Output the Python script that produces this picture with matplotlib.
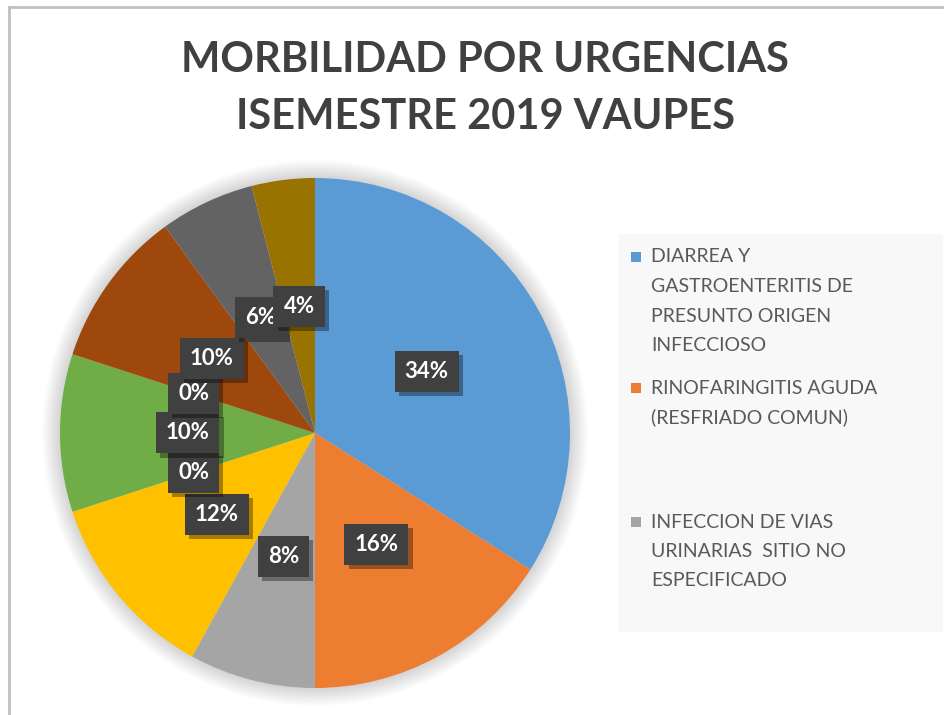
import matplotlib
matplotlib.use('Agg')
import matplotlib.pyplot as plt
from matplotlib.patches import Circle, Rectangle
from matplotlib.lines import Line2D
import matplotlib.patheffects as pe

# ---- data ----
title_lines = ["MORBILIDAD POR URGENCIAS", "ISEMESTRE 2019 VAUPES"]
values = [34, 16, 8, 12, 0, 10, 0, 10, 6, 4]
colors = ['#5B9BD5', '#ED7D31', '#A5A5A5', '#FFC000', '#4472C4',
          '#70AD47', '#255E91', '#9E480E', '#636363', '#997300']
legend_labels = [
    "DIARREA Y\nGASTROENTERITIS DE\nPRESUNTO ORIGEN\nINFECCIOSO",
    "RINOFARINGITIS AGUDA\n(RESFRIADO COMUN)",
    "INFECCION DE VIAS\nURINARIAS  SITIO NO\nESPECIFICADO",
]

W, H = 944, 715
fig = plt.figure(figsize=(W / 100, H / 100), dpi=100)
fig.patch.set_facecolor('white')

# chart border (top and left visible)
fig.add_artist(Line2D([9 / W, 9 / W], [0, 1 - 7 / H], color='#c0c0c0', lw=2))
fig.add_artist(Line2D([9 / W, 1], [1 - 7 / H, 1 - 7 / H], color='#c0c0c0', lw=2))

# title
for i, line in enumerate(title_lines):
    fig.text(485 / W, 1 - (60 + i * 57) / H, line, ha='center', va='center',
             fontsize=30, fontweight='bold', family=['Lato', 'DejaVu Sans'],
             color='#404040')

# pie
cx, cy, R = 315, 433, 255
ax = fig.add_axes([(cx - R) / W, (H - cy - R) / H, 2 * R / W, 2 * R / H])

# soft glow shadow
n = 14
for k in range(n):
    r = 1.0 + 0.07 * (n - k) / n
    ax.add_patch(Circle((0, 0), r, color='black', alpha=0.012, lw=0,
                        clip_on=False, zorder=0))

wedges, texts, autotexts = ax.pie(
    values, colors=colors, startangle=90, counterclock=False,
    autopct='%.0f%%', pctdistance=0.5,
    wedgeprops=dict(linewidth=0),
    textprops=dict(color='white', fontsize=16, fontweight='bold',
                   family=['Lato', 'DejaVu Sans']))
for w in wedges:
    w.set_zorder(2)
for t in autotexts:
    t.set_zorder(5)
    t.set_bbox(dict(boxstyle='square,pad=0.45', facecolor='#404040',
                    edgecolor='none'))
    t.get_bbox_patch().set_path_effects([
        pe.withSimplePatchShadow(offset=(3, -3), shadow_rgbFace='black', alpha=0.35)])
ax.set_xlim(-1, 1)
ax.set_ylim(-1, 1)
ax.set_aspect('equal')
ax.axis('off')

# legend (manual, Excel-style, truncated to three entries)
fig.add_artist(Rectangle((618 / W, (H - 632) / H), (943 - 618) / W, (632 - 234) / H,
                         transform=fig.transFigure, facecolor='#f8f8f8',
                         edgecolor='none', zorder=0))
entry_y = [257, 388, 522]
line_gap = 29.5
for lab, col, y0 in zip(legend_labels, colors, entry_y):
    fig.add_artist(Rectangle((631 / W, (H - y0 - 5) / H), 10 / W, 10 / H,
                             transform=fig.transFigure, facecolor=col,
                             edgecolor='none'))
    for j, ln in enumerate(lab.split('\n')):
        fig.text(651 / W, 1 - (y0 + j * line_gap) / H, ln, ha='left', va='center',
                 fontsize=14, family=['Lato', 'DejaVu Sans'], color='#595959')

fig.savefig('out.png', dpi=100)
